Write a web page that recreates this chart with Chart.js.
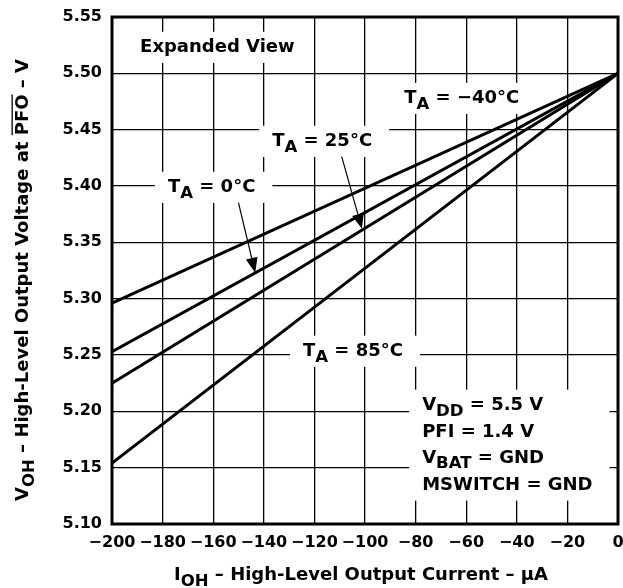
<!DOCTYPE html>
<html>
<head>
<meta charset="utf-8">
<script src="https://cdn.jsdelivr.net/npm/chart.js@4.4.1/dist/chart.umd.min.js"></script>
<style>
  html, body { margin: 0; padding: 0; background: #fff; }
  #wrap { width: 623px; height: 588px; }
</style>
</head>
<body>
<div id="wrap"><canvas id="chart" width="623" height="588"></canvas></div>
<script>
// Datos (corriente en µA, tensión en V)
const currents = [-200, 0];
const voltsM40 = [5.296, 5.50];
const volts0 = [5.253, 5.50];
const volts25 = [5.225, 5.50];
const volts85 = [5.154, 5.50];
const seriesNames = ['TA = -40°C', 'TA = 0°C', 'TA = 25°C', 'TA = 85°C'];

const xTicks = [-200, -180, -160, -140, -120, -100, -80, -60, -40, -20, 0];
const yTicks = [5.10, 5.15, 5.20, 5.25, 5.30, 5.35, 5.40, 5.45, 5.50, 5.55];

// Anotaciones (texto con _{sub} y ~{sobrelinea})
const notes = [
    { lines: ['Expanded View'], x: -188.9, y: [5.519] },
    { lines: ['T_{A} = \u221240°C'], x: -84.5, y: [5.4737] },
    { lines: ['T_{A} = 25°C'], x: -136.7, y: [5.4356] },
    { lines: ['T_{A} = 0°C'], x: -177.9, y: [5.3948] },
    { lines: ['T_{A} = 85°C'], x: -124.5, y: [5.2493] },
    { lines: ['V_{DD} = 5.5 V', 'PFI = 1.4 V', 'V_{BAT} = GND', 'MSWITCH = GND'], x: -77.4, y: [5.2014, 5.1775, 5.1544, 5.1305] }
];
const arrows = [
    { from: [-150.0, 5.385], to: [-143.4, 5.323] },
    { from: [-109.2, 5.426], to: [-101.2, 5.362] }
];
const xTitle = 'I_{OH} \u2013 High-Level Output Current \u2013 \u00b5A';
const yTitle = 'V_{OH} \u2013 High-Level Output Voltage at ~{PFO} \u2013 V';

const FONT = '"DejaVu Sans", sans-serif';

function toPoints(ys) {
    return currents.map((x, i) => ({ x: x, y: ys[i] }));
}

function parseRich(str) {
    const parts = [];
    const re = /([_~])\{([^}]*)\}/g;
    let last = 0, m;
    while ((m = re.exec(str)) !== null) {
        if (m.index > last) parts.push({ t: str.slice(last, m.index) });
        parts.push({ t: m[2], sub: m[1] === '_', over: m[1] === '~' });
        last = re.lastIndex;
    }
    if (last < str.length) parts.push({ t: str.slice(last) });
    return parts;
}

function richWidth(ctx, str, size) {
    let w = 0;
    parseRich(str).forEach(p => {
        ctx.font = 'bold ' + (p.sub ? size * 0.92 : size) + 'px ' + FONT;
        w += ctx.measureText(p.t).width;
    });
    return w;
}

function drawRich(ctx, str, x, y, size) {
    let cx = x;
    ctx.textBaseline = 'alphabetic';
    ctx.textAlign = 'left';
    parseRich(str).forEach(p => {
        const s = p.sub ? size * 0.92 : size;
        ctx.font = 'bold ' + s + 'px ' + FONT;
        const w = ctx.measureText(p.t).width;
        const dy = p.sub ? size * 0.32 : 0;
        ctx.fillText(p.t, cx, y + dy);
        if (p.over) {
            ctx.save();
            ctx.lineWidth = 1.3;
            ctx.beginPath();
            ctx.moveTo(cx, y - size * 0.88);
            ctx.lineTo(cx + w, y - size * 0.88);
            ctx.stroke();
            ctx.restore();
        }
        cx += w;
    });
}

const annotPlugin = {
    id: 'annot',
    beforeDatasetsDraw(chart) {
        const ctx = chart.ctx;
        const xs = chart.scales.x, ys = chart.scales.y;
        const size = 18;
        ctx.save();
        // cajas blancas que tapan la grilla
        notes.forEach(n => {
            const left = xs.getPixelForValue(n.x);
            const w = Math.max(...n.lines.map(l => richWidth(ctx, l, size)));
            const top = ys.getPixelForValue(n.y[0]) - size * 0.73 - 7;
            const bottom = ys.getPixelForValue(n.y[n.y.length - 1]) + 11;
            ctx.fillStyle = '#fff';
            ctx.fillRect(left - 13, top, w + 30, bottom - top);
        });
        ctx.fillStyle = '#000';
        ctx.strokeStyle = '#000';
        notes.forEach(n => {
            const left = xs.getPixelForValue(n.x);
            n.lines.forEach((l, i) => drawRich(ctx, l, left, ys.getPixelForValue(n.y[i]), size));
        });
        // flechas
        arrows.forEach(a => {
            const x1 = xs.getPixelForValue(a.from[0]), y1 = ys.getPixelForValue(a.from[1]);
            const x2 = xs.getPixelForValue(a.to[0]), y2 = ys.getPixelForValue(a.to[1]);
            const ang = Math.atan2(y2 - y1, x2 - x1);
            const len = 15, half = 6;
            const bx = x2 - len * Math.cos(ang), by = y2 - len * Math.sin(ang);
            ctx.lineWidth = 1.2;
            ctx.beginPath();
            ctx.moveTo(x1, y1);
            ctx.lineTo(bx, by);
            ctx.stroke();
            ctx.beginPath();
            ctx.moveTo(x2, y2);
            ctx.lineTo(bx + half * Math.sin(ang), by - half * Math.cos(ang));
            ctx.lineTo(bx - half * Math.sin(ang), by + half * Math.cos(ang));
            ctx.closePath();
            ctx.fill();
        });
        ctx.restore();
    },
    afterDatasetsDraw(chart) {
        const ctx = chart.ctx;
        const a = chart.chartArea;
        ctx.save();
        ctx.strokeStyle = '#000';
        ctx.lineWidth = 3;
        ctx.strokeRect(a.left, a.top, a.right - a.left, a.bottom - a.top);
        ctx.restore();
    },
    afterDraw(chart) {
        const ctx = chart.ctx;
        const a = chart.chartArea;
        const size = 18;
        ctx.save();
        ctx.fillStyle = '#000';
        ctx.strokeStyle = '#000';
        // titulo eje x
        const wx = richWidth(ctx, xTitle, size);
        drawRich(ctx, xTitle, (a.left + a.right) / 2 - wx / 2 - 4, 580, size);
        // titulo eje y
        const wy = richWidth(ctx, yTitle, size);
        ctx.translate(28, 280);
        ctx.rotate(-Math.PI / 2);
        drawRich(ctx, yTitle, -wy / 2, 0, size);
        ctx.restore();
    }
};

const lineStyle = {
    borderColor: '#000',
    borderWidth: 3,
    pointRadius: 0,
    fill: false,
    tension: 0
};

new Chart(document.getElementById('chart'), {
    type: 'line',
    data: {
        datasets: [
            Object.assign({ label: seriesNames[0], data: toPoints(voltsM40) }, lineStyle),
            Object.assign({ label: seriesNames[1], data: toPoints(volts0) }, lineStyle),
            Object.assign({ label: seriesNames[2], data: toPoints(volts25) }, lineStyle),
            Object.assign({ label: seriesNames[3], data: toPoints(volts85) }, lineStyle)
        ]
    },
    options: {
        responsive: false,
        animation: false,
        layout: { padding: { top: 17, right: 5, left: 0, bottom: 0 } },
        plugins: {
            legend: { display: false },
            tooltip: { enabled: false }
        },
        scales: {
            x: {
                type: 'linear',
                min: xTicks[0],
                max: xTicks[xTicks.length - 1],
                afterBuildTicks: s => { s.ticks = xTicks.map(v => ({ value: v })); },
                afterFit: s => { s.height = 64; s.paddingLeft = 0; s.paddingRight = 0; },
                grid: { color: '#000', lineWidth: 1.3, drawTicks: false },
                border: { display: false },
                ticks: {
                    autoSkip: false,
                    maxRotation: 0,
                    padding: 9,
                    color: '#000',
                    font: { family: FONT, size: 16, weight: 'bold' },
                    callback: v => v < 0 ? '\u2212' + Math.abs(v) : '0'
                }
            },
            y: {
                min: yTicks[0],
                max: yTicks[yTicks.length - 1],
                afterBuildTicks: s => { s.ticks = yTicks.map(v => ({ value: v })); },
                afterFit: s => { s.width = 112; s.paddingTop = 0; s.paddingBottom = 0; },
                grid: { color: '#000', lineWidth: 1.3, drawTicks: false },
                border: { display: false },
                ticks: {
                    padding: 10,
                    color: '#000',
                    font: { family: FONT, size: 16, weight: 'bold' },
                    callback: v => Number(v).toFixed(2)
                }
            }
        }
    },
    plugins: [annotPlugin]
});
</script>
</body>
</html>
